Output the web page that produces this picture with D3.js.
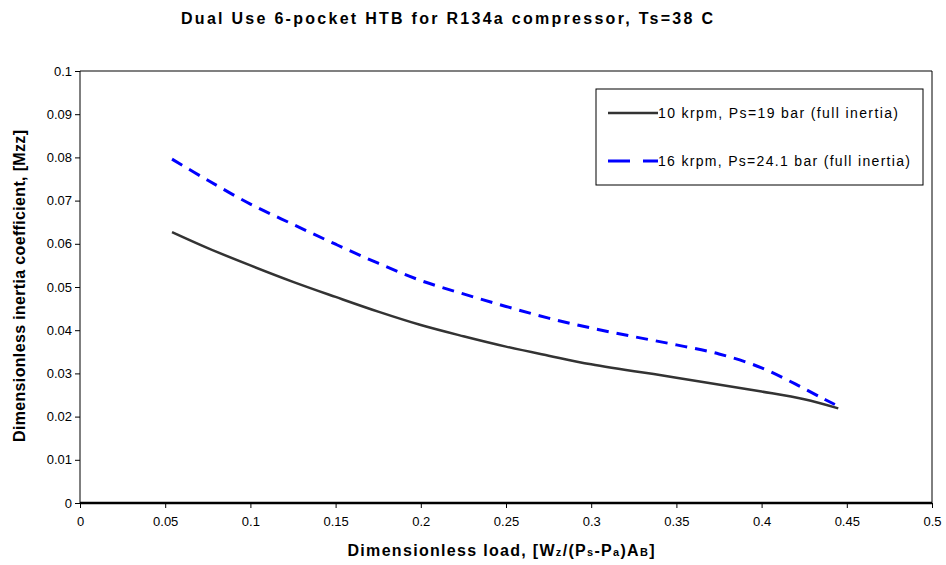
<!DOCTYPE html>
<html>
<head>
<meta charset="utf-8">
<script src="https://cdn.jsdelivr.net/npm/d3@7"></script>
<style>
  body { margin: 0; background: #fff; }
  text { font-family: "Liberation Sans", Arial, sans-serif; fill: #000; }
  .tick-label { font-size: 13px; }
  .title { font-size: 16px; font-weight: bold; }
  .axis-title { font-size: 16px; font-weight: bold; }
  .legend-text { font-size: 14px; }
</style>
</head>
<body>
<svg id="chart" width="946" height="565"></svg>
<script>
// x = dimensionless load, y = dimensionless inertia coefficient
const loads10 = [0.054, 0.075, 0.1, 0.125, 0.15, 0.175, 0.2, 0.225, 0.25, 0.275, 0.3, 0.35, 0.4, 0.425, 0.445]
const mzz10 = [0.0627, 0.0590, 0.0550, 0.0512, 0.0477, 0.0443, 0.0412, 0.0386, 0.0362, 0.0341, 0.0321, 0.0290, 0.0258, 0.0240, 0.0219]

const loads16 = [0.054, 0.075, 0.1, 0.125, 0.15, 0.175, 0.2, 0.225, 0.25, 0.275, 0.3, 0.325, 0.35, 0.375, 0.4, 0.42, 0.435, 0.443]
const mzz16 = [0.0796, 0.0747, 0.0692, 0.0645, 0.0599, 0.0555, 0.0515, 0.0484, 0.0455, 0.0428, 0.0405, 0.0385, 0.0366, 0.0345, 0.0313, 0.0275, 0.0244, 0.0228]

const seriesNames = ["10 krpm, Ps=19 bar (full inertia)", "16 krpm, Ps=24.1 bar (full inertia)"]
const xTicks = [0, 0.05, 0.1, 0.15, 0.2, 0.25, 0.3, 0.35, 0.4, 0.45, 0.5]
const yTicks = [0, 0.01, 0.02, 0.03, 0.04, 0.05, 0.06, 0.07, 0.08, 0.09, 0.1]

const plot = { left: 80, right: 932, top: 71, bottom: 503 }

const svg = d3.select("#chart")

const x = d3.scaleLinear().domain([0, 0.5]).range([plot.left, plot.right])
const y = d3.scaleLinear().domain([0, 0.1]).range([plot.bottom, plot.top])

// frame: gray top, black right
svg.append("line")
  .attr("x1", plot.left).attr("x2", plot.right)
  .attr("y1", plot.top).attr("y2", plot.top)
  .attr("stroke", "#808080").attr("stroke-width", 2)
svg.append("line")
  .attr("x1", plot.right).attr("x2", plot.right)
  .attr("y1", plot.top).attr("y2", plot.bottom)
  .attr("stroke", "#000").attr("stroke-width", 1)

// axes
const xAxis = svg.append("g")
  .attr("transform", `translate(0,${plot.bottom})`)
  .call(d3.axisBottom(x).tickValues(xTicks).tickSize(5).tickPadding(9).tickFormat(d => String(d)))
xAxis.select(".domain").attr("stroke-width", 2.5).attr("d", `M${plot.left},0H${plot.right}`)
xAxis.selectAll("text").attr("class", "tick-label").attr("font-family", null).attr("font-size", null)

const yAxis = svg.append("g")
  .attr("transform", `translate(${plot.left},0)`)
  .call(d3.axisLeft(y).tickValues(yTicks).tickSize(5).tickPadding(3).tickFormat(d => String(d)))
yAxis.select(".domain").attr("d", `M0,${plot.bottom}V${plot.top}`)
yAxis.selectAll("text").attr("class", "tick-label").attr("font-family", null).attr("font-size", null)

// series
const line = d3.line().x(d => x(d[0])).y(d => y(d[1])).curve(d3.curveCatmullRom.alpha(0.5))

svg.append("path")
  .datum(d3.zip(loads10, mzz10))
  .attr("d", line)
  .attr("fill", "none")
  .attr("stroke", "#333333")
  .attr("stroke-width", 2.5)

svg.append("path")
  .datum(d3.zip(loads16, mzz16))
  .attr("d", line)
  .attr("fill", "none")
  .attr("stroke", "#0000ff")
  .attr("stroke-width", 3)
  .attr("stroke-dasharray", "12,8")

// legend
const lg = svg.append("g").attr("transform", "translate(596,89)")
lg.append("rect")
  .attr("width", 327).attr("height", 96)
  .attr("fill", "#fff").attr("stroke", "#000").attr("stroke-width", 1)
const legendStyles = [
  { color: "#333333", dash: null, w: 2.5, len: 240 },
  { color: "#0000ff", dash: "22,13", w: 3, len: 252 }
]
seriesNames.forEach((name, i) => {
  const yy = 24 + i * 48
  lg.append("line")
    .attr("x1", 12).attr("x2", 62).attr("y1", yy).attr("y2", yy)
    .attr("stroke", legendStyles[i].color)
    .attr("stroke-width", legendStyles[i].w)
    .attr("stroke-dasharray", legendStyles[i].dash)
  lg.append("text")
    .attr("class", "legend-text")
    .attr("x", 62).attr("y", yy + 5)
    .attr("textLength", legendStyles[i].len).attr("lengthAdjust", "spacing")
    .text(name)
})

// title
svg.append("text")
  .attr("class", "title")
  .attr("x", 447).attr("y", 24)
  .attr("text-anchor", "middle")
  .attr("textLength", 532).attr("lengthAdjust", "spacing")
  .text("Dual Use 6-pocket HTB for R134a compressor, Ts=38 C")

// x axis title with subscripts
const xt = svg.append("text")
  .attr("class", "axis-title")
  .attr("x", 501).attr("y", 556)
  .attr("text-anchor", "middle")
  .attr("textLength", 307).attr("lengthAdjust", "spacing")
const xParts = [
  ["Dimensionless load, [W", false], ["z", true], ["/(P", false], ["s", true],
  ["-P", false], ["a", true], [")A", false], ["B", true], ["]", false]
]
xParts.forEach(([t, sub]) => {
  xt.append("tspan")
    .attr("font-size", sub ? "11px" : null)
    .text(t)
})

// y axis title
svg.append("text")
  .attr("class", "axis-title")
  .attr("transform", "translate(25,286) rotate(-90)")
  .attr("text-anchor", "middle")
  .attr("textLength", 312).attr("lengthAdjust", "spacing")
  .text("Dimensionless inertia coefficient, [Mzz]")
</script>
</body>
</html>
